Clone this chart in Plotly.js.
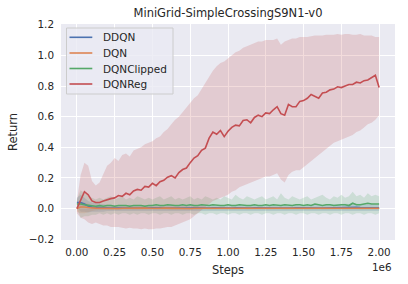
<!DOCTYPE html>
<html>
<head>
<meta charset="utf-8">
<script src="https://cdn.plot.ly/plotly-3.0.1.min.js"></script>
<style>html,body{margin:0;padding:0;background:#fff;}#chart{width:408px;height:284px;}</style>
</head>
<body>
<div id="chart"></div>
<script>
const seriesNames = ["DDQN", "DQN", "DQNClipped", "DQNReg"];
const seriesColors = ["#4C72B0", "#DD8452", "#55A868", "#C44E52"];
const bandColors = ["rgba(76,114,176,0.2)", "rgba(221,132,82,0.2)", "rgba(85,168,104,0.2)", "rgba(196,78,82,0.2)"];

const xTickVals = [0, 250000, 500000, 750000, 1000000, 1250000, 1500000, 1750000, 2000000];
const xTickText = ["0.00", "0.25", "0.50", "0.75", "1.00", "1.25", "1.50", "1.75", "2.00"];
const yTickVals = [-0.2, 0.0, 0.2, 0.4, 0.6, 0.8, 1.0, 1.2];
const yTickText = ["\u22120.2", "0.0", "0.2", "0.4", "0.6", "0.8", "1.0", "1.2"];

const steps = [0,25000,50000,75000,100000,125000,150000,175000,200000,225000,
250000,275000,300000,325000,350000,375000,400000,425000,450000,475000,
500000,525000,550000,575000,600000,625000,650000,675000,700000,725000,
750000,775000,800000,825000,850000,875000,900000,925000,950000,975000,
1000000,1025000,1050000,1075000,1100000,1125000,1150000,1175000,1200000,1225000,
1250000,1275000,1300000,1325000,1350000,1375000,1400000,1425000,1450000,1475000,
1500000,1525000,1550000,1575000,1600000,1625000,1650000,1675000,1700000,1725000,
1750000,1775000,1800000,1825000,1850000,1875000,1900000,1925000,1950000,1975000,
2000000];

const ddqnMean = [0.04,0.04,0.03,0.015,0.01,0.008,0.006,0.005,0.005,0.004,
0.004,0.005,0.004,0.004,0.005,0.004,0.004,0.003,0.004,0.004,
0.005,0.004,0.004,0.003,0.004,0.005,0.004,0.004,0.003,0.004,
0.004,0.005,0.004,0.004,0.003,0.004,0.005,0.004,0.004,0.003,
0.004,0.004,0.005,0.004,0.003,0.004,0.004,0.005,0.004,0.004,
0.003,0.004,0.005,0.004,0.004,0.003,0.004,0.004,0.005,0.004,
0.004,0.003,0.004,0.005,0.004,0.004,0.005,0.006,0.005,0.006,
0.007,0.008,0.007,0.009,0.008,0.007,0.006,0.007,0.006,0.005,
0.005];
const ddqnUp = [0.07,0.09,0.07,0.05,0.04,0.035,0.03,0.03,0.025,0.025,
0.022,0.024,0.02,0.022,0.025,0.02,0.022,0.02,0.024,0.022,
0.025,0.02,0.022,0.02,0.024,0.025,0.02,0.022,0.02,0.022,
0.024,0.025,0.02,0.022,0.02,0.022,0.025,0.02,0.022,0.02,
0.022,0.024,0.025,0.02,0.02,0.022,0.024,0.025,0.02,0.022,
0.02,0.022,0.025,0.02,0.022,0.02,0.022,0.024,0.025,0.02,
0.022,0.02,0.024,0.025,0.022,0.02,0.025,0.027,0.025,0.028,
0.03,0.032,0.03,0.034,0.032,0.03,0.028,0.03,0.027,0.025,
0.025];
const ddqnLo = [0.01,-0.02,-0.02,-0.025,-0.02,-0.02,-0.02,-0.02,-0.015,-0.015,
-0.015,-0.014,-0.015,-0.016,-0.015,-0.014,-0.015,-0.016,-0.015,-0.014,
-0.015,-0.016,-0.015,-0.014,-0.015,-0.015,-0.016,-0.015,-0.014,-0.015,
-0.015,-0.014,-0.015,-0.016,-0.015,-0.014,-0.015,-0.016,-0.015,-0.014,
-0.015,-0.016,-0.015,-0.014,-0.015,-0.015,-0.016,-0.015,-0.014,-0.015,
-0.015,-0.014,-0.015,-0.016,-0.015,-0.014,-0.015,-0.016,-0.015,-0.014,
-0.015,-0.016,-0.015,-0.014,-0.015,-0.015,-0.016,-0.015,-0.014,-0.015,
-0.015,-0.014,-0.015,-0.016,-0.015,-0.014,-0.015,-0.016,-0.015,-0.014,
-0.015];

const dqnMean = [0.0,0.01,0.01,0.006,0.004,0.003,0.002,0.002,0.002,0.002,
0.002,0.001,0.002,0.003,0.002,0.001,0.002,0.002,0.003,0.002,
0.001,0.002,0.002,0.003,0.002,0.001,0.002,0.002,0.003,0.002,
0.001,0.002,0.002,0.003,0.002,0.001,0.002,0.002,0.003,0.002,
0.001,0.002,0.002,0.003,0.002,0.001,0.002,0.002,0.003,0.002,
0.001,0.002,0.002,0.003,0.002,0.001,0.002,0.002,0.003,0.002,
0.001,0.002,0.002,0.003,0.002,0.001,0.002,0.002,0.003,0.002,
0.001,0.002,0.002,0.003,0.002,0.001,0.002,0.002,0.003,0.002,
0.002];
const dqnUp = [0.02,0.04,0.04,0.03,0.02,0.015,0.012,0.01,0.01,0.01,
0.01,0.009,0.01,0.011,0.01,0.009,0.01,0.01,0.011,0.01,
0.009,0.01,0.01,0.011,0.01,0.009,0.01,0.01,0.011,0.01,
0.009,0.01,0.01,0.011,0.01,0.009,0.01,0.01,0.011,0.01,
0.009,0.01,0.01,0.011,0.01,0.009,0.01,0.01,0.011,0.01,
0.009,0.01,0.01,0.011,0.01,0.009,0.01,0.01,0.011,0.01,
0.009,0.01,0.01,0.011,0.01,0.009,0.01,0.01,0.011,0.01,
0.009,0.01,0.01,0.011,0.01,0.009,0.01,0.01,0.011,0.01,
0.01];
const dqnLo = [-0.02,-0.03,-0.03,-0.02,-0.015,-0.01,-0.008,-0.008,-0.007,-0.007,
-0.006,-0.007,-0.006,-0.005,-0.006,-0.007,-0.006,-0.006,-0.005,-0.006,
-0.007,-0.006,-0.006,-0.005,-0.006,-0.007,-0.006,-0.006,-0.005,-0.006,
-0.007,-0.006,-0.006,-0.005,-0.006,-0.007,-0.006,-0.006,-0.005,-0.006,
-0.007,-0.006,-0.006,-0.005,-0.006,-0.007,-0.006,-0.006,-0.005,-0.006,
-0.007,-0.006,-0.006,-0.005,-0.006,-0.007,-0.006,-0.006,-0.005,-0.006,
-0.007,-0.006,-0.006,-0.005,-0.006,-0.007,-0.006,-0.006,-0.005,-0.006,
-0.007,-0.006,-0.006,-0.005,-0.006,-0.007,-0.006,-0.006,-0.005,-0.006,
-0.006];

const clippedMean = [0.03,0.03,0.025,0.02,0.015,0.015,0.02,0.015,0.02,0.02,
0.015,0.02,0.02,0.02,0.015,0.02,0.02,0.02,0.015,0.02,
0.02,0.025,0.02,0.02,0.025,0.02,0.02,0.02,0.025,0.02,
0.025,0.02,0.02,0.025,0.02,0.02,0.025,0.02,0.02,0.02,
0.025,0.02,0.02,0.025,0.02,0.02,0.02,0.025,0.02,0.02,
0.025,0.02,0.025,0.02,0.02,0.025,0.02,0.02,0.025,0.025,
0.02,0.025,0.02,0.03,0.025,0.02,0.025,0.025,0.02,0.025,
0.025,0.025,0.02,0.035,0.025,0.025,0.03,0.035,0.03,0.03,
0.03];
const clippedUp = [0.06,0.12,0.10,0.08,0.07,0.06,0.07,0.06,0.07,0.08,
0.06,0.07,0.08,0.06,0.07,0.06,0.08,0.07,0.06,0.07,
0.06,0.07,0.08,0.06,0.07,0.08,0.06,0.07,0.06,0.07,
0.08,0.06,0.07,0.06,0.08,0.07,0.06,0.07,0.06,0.08,
0.07,0.06,0.09,0.07,0.06,0.08,0.07,0.06,0.07,0.08,
0.06,0.07,0.08,0.06,0.10,0.07,0.06,0.08,0.07,0.06,
0.07,0.08,0.06,0.07,0.08,0.09,0.07,0.06,0.08,0.07,
0.09,0.07,0.08,0.11,0.08,0.09,0.07,0.10,0.08,0.09,
0.08];
const clippedLo = [0.0,-0.06,-0.05,-0.05,-0.04,-0.04,-0.03,-0.04,-0.03,-0.04,
-0.03,-0.04,-0.03,-0.03,-0.04,-0.03,-0.04,-0.03,-0.03,-0.04,
-0.03,-0.03,-0.04,-0.03,-0.03,-0.04,-0.03,-0.03,-0.04,-0.03,
-0.03,-0.04,-0.03,-0.03,-0.04,-0.03,-0.03,-0.04,-0.03,-0.03,
-0.04,-0.03,-0.03,-0.04,-0.03,-0.03,-0.04,-0.03,-0.03,-0.04,
-0.03,-0.03,-0.04,-0.03,-0.03,-0.04,-0.03,-0.03,-0.04,-0.03,
-0.03,-0.04,-0.03,-0.03,-0.04,-0.03,-0.03,-0.04,-0.03,-0.03,
-0.04,-0.03,-0.03,-0.04,-0.03,-0.03,-0.04,-0.03,-0.03,-0.04,
-0.03];

const regMean = [0.00,0.06,0.11,0.09,0.05,0.04,0.04,0.05,0.06,0.065,
0.07,0.085,0.08,0.10,0.09,0.115,0.125,0.12,0.145,0.14,
0.165,0.15,0.175,0.185,0.205,0.215,0.20,0.235,0.255,0.265,
0.30,0.33,0.345,0.38,0.395,0.46,0.50,0.485,0.51,0.47,
0.505,0.53,0.545,0.54,0.575,0.58,0.56,0.595,0.61,0.60,
0.625,0.62,0.645,0.665,0.62,0.61,0.68,0.665,0.665,0.70,
0.705,0.72,0.745,0.73,0.72,0.755,0.76,0.775,0.78,0.795,
0.79,0.80,0.81,0.81,0.825,0.82,0.835,0.84,0.855,0.87,
0.79];
const regUp = [0.05,0.22,0.30,0.28,0.18,0.15,0.17,0.22,0.28,0.30,
0.33,0.31,0.35,0.36,0.34,0.38,0.39,0.40,0.42,0.43,
0.44,0.46,0.47,0.50,0.52,0.55,0.58,0.60,0.63,0.66,
0.69,0.72,0.74,0.78,0.82,0.86,0.90,0.93,0.95,0.96,
0.98,1.00,1.02,1.03,1.05,1.06,1.07,1.08,1.09,1.09,
1.10,1.10,1.10,1.11,1.07,1.09,1.10,1.11,1.11,1.12,
1.12,1.12,1.125,1.13,1.13,1.13,1.135,1.135,1.135,1.14,
1.135,1.14,1.14,1.135,1.135,1.14,1.13,1.13,1.13,1.12,
1.12];
const regLo = [-0.03,-0.06,-0.07,-0.09,-0.10,-0.09,-0.10,-0.11,-0.11,-0.12,
-0.12,-0.12,-0.125,-0.13,-0.125,-0.13,-0.13,-0.135,-0.13,-0.135,
-0.135,-0.13,-0.13,-0.125,-0.12,-0.12,-0.11,-0.10,-0.09,-0.08,
-0.07,-0.05,-0.03,-0.01,0.01,0.03,0.05,0.06,0.07,0.08,
0.09,0.11,0.12,0.14,0.15,0.16,0.17,0.18,0.19,0.20,
0.21,0.21,0.22,0.23,0.19,0.17,0.22,0.24,0.25,0.25,
0.27,0.29,0.31,0.33,0.35,0.37,0.39,0.41,0.43,0.44,
0.45,0.46,0.47,0.48,0.50,0.51,0.53,0.55,0.56,0.58,
0.61];

const means = [ddqnMean, dqnMean, clippedMean, regMean];
const ups = [ddqnUp, dqnUp, clippedUp, regUp];
const los = [ddqnLo, dqnLo, clippedLo, regLo];

const traces = [];
for (let k = 0; k < seriesNames.length; k++) {
  traces.push({x: steps, y: los[k], type: 'scatter', mode: 'lines', line: {width: 0, color: bandColors[k]}, showlegend: false, hoverinfo: 'skip'});
  traces.push({x: steps, y: ups[k], type: 'scatter', mode: 'lines', line: {width: 0, color: bandColors[k]}, fill: 'tonexty', fillcolor: bandColors[k], showlegend: false, hoverinfo: 'skip'});
}
for (let k = 0; k < seriesNames.length; k++) {
  traces.push({x: steps, y: means[k], type: 'scatter', mode: 'lines', name: seriesNames[k], showlegend: false, line: {width: 1.6, color: seriesColors[k]}});
}

const font = 'DejaVu Sans, sans-serif';
const W = 408, H = 284, mL = 61, mR = 13, mT = 24, mB = 44;
const pw = W - mL - mR, ph = H - mT - mB;
const px2x = p => (p - mL) / pw;
const px2y = p => 1 - (p - mT) / ph;

// legend (drawn as a framed box with line samples)
const shapes = [{type: 'rect', xref: 'paper', yref: 'paper', x0: px2x(66.5), x1: px2x(173), y0: px2y(94), y1: px2y(28),
  fillcolor: 'rgba(234,234,242,0.8)', line: {color: '#CCCCCC', width: 1}, layer: 'above'}];
const annotations = [];
const rowY = [37.3, 53.0, 68.5, 84.0];
for (let k = 0; k < seriesNames.length; k++) {
  shapes.push({type: 'line', xref: 'paper', yref: 'paper', x0: px2x(69.5), x1: px2x(92.3), y0: px2y(rowY[k]), y1: px2y(rowY[k]),
    line: {color: seriesColors[k], width: 1.6}, layer: 'above'});
  annotations.push({text: seriesNames[k], xref: 'paper', yref: 'paper', x: px2x(100.5), y: px2y(rowY[k]), xanchor: 'left', yanchor: 'middle',
    showarrow: false, font: {family: font, size: 10.5, color: '#262626'}});
}
annotations.push({text: '1e6', xref: 'paper', yref: 'paper', x: px2x(394), y: px2y(267), xanchor: 'right', yanchor: 'middle', showarrow: false, font: {family: font, size: 10.4, color: '#262626'}});

const layout = {
  width: W, height: H,
  margin: {l: mL, r: mR, t: mT, b: mB},
  paper_bgcolor: '#ffffff',
  plot_bgcolor: '#EAEAF2',
  font: {family: font, color: '#262626', size: 10},
  title: {text: 'MiniGrid-SimpleCrossingS9N1-v0', font: {family: font, size: 11.5, color: '#262626'}, xref: 'paper', x: 0.5, xanchor: 'center', yref: 'container', y: 0.954, yanchor: 'middle'},
  xaxis: {range: [-105000, 2105000], tickvals: xTickVals, ticktext: xTickText, showgrid: true, gridcolor: '#ffffff', gridwidth: 1, zeroline: false, showline: false, ticks: '', ticklabelstandoff: 5, tickfont: {family: font, size: 10.4, color: '#262626'},
    title: {text: 'Steps', font: {family: font, size: 11.5, color: '#262626'}, standoff: 8}},
  yaxis: {range: [-0.205, 1.205], tickvals: yTickVals, ticktext: yTickText, showgrid: true, gridcolor: '#ffffff', gridwidth: 1, zeroline: false, showline: false, ticks: '', ticklabelstandoff: 6, tickfont: {family: font, size: 10.4, color: '#262626'},
    title: {text: 'Return', font: {family: font, size: 11.5, color: '#262626'}, standoff: 8}},
  shapes: shapes,
  annotations: annotations,
  showlegend: false
};
Plotly.newPlot('chart', traces, layout, {staticPlot: true, displayModeBar: false});
</script>
</body>
</html>
